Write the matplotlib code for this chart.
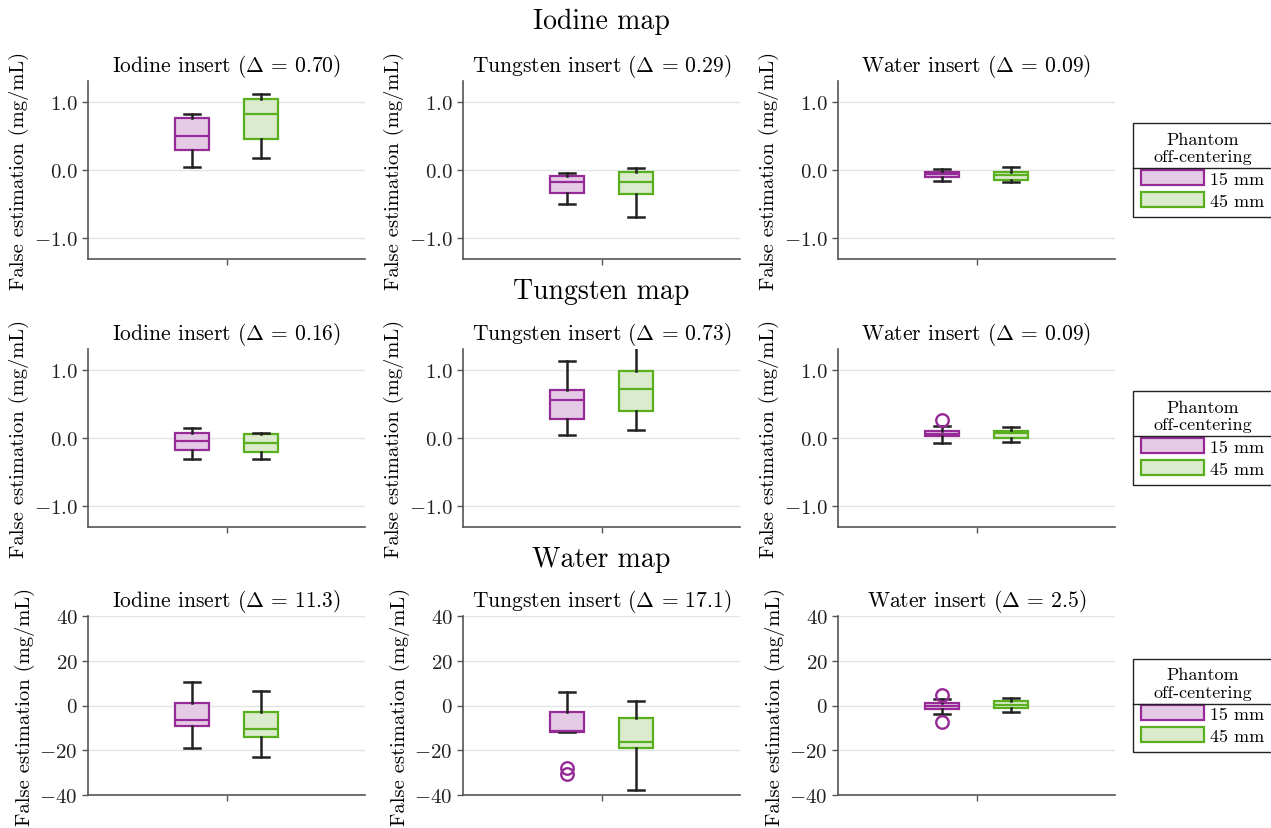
import numpy as np
import matplotlib
matplotlib.use("Agg")
import matplotlib.pyplot as plt
from matplotlib.patches import Patch
from matplotlib.lines import Line2D
from matplotlib.ticker import FuncFormatter

plt.rcParams['font.family'] = 'serif'
plt.rcParams['font.serif'] = ['cmr10', 'DejaVu Serif']
plt.rcParams['mathtext.fontset'] = 'cm'
plt.rcParams['axes.formatter.use_mathtext'] = True
plt.rcParams['axes.unicode_minus'] = True

# labels
maps = ["Iodine map", "Tungsten map", "Water map"]
inserts = ["Iodine insert", "Tungsten insert", "Water insert"]
deltas = [["0.70", "0.29", "0.09"],
          ["0.16", "0.73", "0.09"],
          ["11.3", "17.1", "2.5"]]
groups = ["15 mm", "45 mm"]

# box statistics per map (rows) and insert (columns), 15 mm off-centering
lo_15 = [[0.04, -0.50, -0.16], [-0.30, 0.05, -0.08], [-18.9, -11.9, -3.6]]
q1_15 = [[0.29, -0.33, -0.10], [-0.18, 0.28, 0.03], [-9.0, -11.9, -1.7]]
med_15 = [[0.49, -0.18, -0.06], [-0.05, 0.56, 0.065], [-6.7, -11.2, -0.3]]
q3_15 = [[0.755, -0.09, -0.03], [0.07, 0.70, 0.10], [1.0, -3.1, 0.9]]
hi_15 = [[0.82, -0.05, 0.01], [0.14, 1.12, 0.17], [10.3, 6.0, 3.1]]
fl_15 = [[[], [], []], [[], [], [0.26]], [[], [-28.0, -30.5], [4.9, -7.3]]]

# 45 mm off-centering
lo_45 = [[0.18, -0.69, -0.17], [-0.30, 0.11, -0.06], [-23.0, -37.8, -2.8]]
q1_45 = [[0.45, -0.35, -0.14], [-0.20, 0.39, 0.0], [-14.0, -19.1, -0.9]]
med_45 = [[0.82, -0.17, -0.08], [-0.07, 0.72, 0.07], [-10.3, -16.4, 0.1]]
q3_45 = [[1.04, -0.03, -0.03], [0.06, 0.98, 0.10], [-3.1, -5.4, 2.1]]
hi_45 = [[1.105, 0.025, 0.04], [0.08, 1.45, 0.16], [6.3, 2.0, 3.4]]
fl_45 = [[[], [], []], [[], [], []], [[], [], []]]

edge_cols = ['#962a96', '#5aaf1e']
fill_cols = ['#e5cae5', '#dcebcd']

W, H = 1271, 829
fig = plt.figure(figsize=(W / 100, H / 100), dpi=100)

col_left = [88, 463, 838]
row_top = [82, 350, 617]
row_h = [178, 178, 179]
ax_w = 277
suptitle_y = [22, 292, 560]

fmt1 = FuncFormatter(lambda v, p: "$%.1f$" % v)
fmt0 = FuncFormatter(lambda v, p: "$%d$" % int(round(v)))

for r in range(3):
    fig.text(601 / W, 1 - suptitle_y[r] / H, maps[r], ha='center', va='center', fontsize=20)
    for c in range(3):
        ax = fig.add_axes([col_left[c] / W, 1 - (row_top[r] + row_h[r]) / H,
                           ax_w / W, row_h[r] / H])
        stats = []
        for lo, q1, med, q3, hi, fl in [(lo_15, q1_15, med_15, q3_15, hi_15, fl_15),
                                        (lo_45, q1_45, med_45, q3_45, hi_45, fl_45)]:
            stats.append(dict(whislo=lo[r][c], q1=q1[r][c], med=med[r][c],
                              q3=q3[r][c], whishi=hi[r][c], fliers=fl[r][c]))
        res = ax.bxp(stats, positions=[-0.125, 0.125], widths=0.125, capwidths=0.058,
                     patch_artist=True, showfliers=True,
                     whiskerprops=dict(color='#222222', lw=1.8),
                     capprops=dict(color='#222222', lw=1.8))
        for i in range(2):
            res['boxes'][i].set_facecolor(fill_cols[i])
            res['boxes'][i].set_edgecolor(edge_cols[i])
            res['boxes'][i].set_linewidth(1.6)
            res['medians'][i].set_color(edge_cols[i])
            res['medians'][i].set_linewidth(1.6)
            res['fliers'][i].set(marker='o', markerfacecolor='none',
                                 markeredgecolor=edge_cols[i], markersize=9,
                                 markeredgewidth=1.7)
        ax.set_xlim(-0.5, 0.5)
        ax.set_xticks([0])
        ax.set_xticklabels([''])
        if r < 2:
            ax.set_ylim(-1.3, 1.3)
            ax.set_yticks([-1.0, 0.0, 1.0])
            ax.yaxis.set_major_formatter(fmt1)
        else:
            ax.set_ylim(-40, 40)
            ax.set_yticks([-40, -20, 0, 20, 40])
            ax.yaxis.set_major_formatter(fmt0)
        ax.grid(axis='y', color='#e4e4e4', lw=1)
        ax.set_axisbelow(True)
        for s in ['top', 'right']:
            ax.spines[s].set_visible(False)
        for s in ['left', 'bottom']:
            ax.spines[s].set_color('#555555')
            ax.spines[s].set_linewidth(1.2)
        ax.tick_params(axis='both', colors='#555555', labelcolor='#222222',
                       labelsize=15, length=4, width=1)
        ax.set_title(inserts[c] + r" ($\Delta$ = " + deltas[r][c] + ")",
                     fontsize=15.5, pad=7)
        ax.set_ylabel("False estimation (mg/mL)", fontsize=14.8, labelpad=3)

        if c == 2:
            handles = [Patch(facecolor=fill_cols[i], edgecolor=edge_cols[i], lw=1.6,
                             label=groups[i]) for i in range(2)]
            leg = ax.legend(handles=handles, title="Phantom\noff-centering",
                            loc='center left', bbox_to_anchor=(1.065, 0.5),
                            borderaxespad=0,
                            fontsize=13, title_fontsize=13, fancybox=False,
                            edgecolor='#222222', framealpha=1,
                            handlelength=3.5, handleheight=0.9,
                            handletextpad=0.3, borderpad=0.45, labelspacing=0.3)
            leg.get_frame().set_linewidth(1.0)
            leg.get_title().set_multialignment('center')
            ax._row_leg = leg

fig.canvas.draw()
renderer = fig.canvas.get_renderer()
for ax in fig.axes:
    leg = getattr(ax, '_row_leg', None)
    if leg is None:
        continue
    lb = leg.get_window_extent(renderer)
    tb = leg.get_title().get_window_extent(renderer)
    y = tb.y0 - 4
    fig.add_artist(Line2D([lb.x0 / W, lb.x1 / W], [y / H, y / H],
                          color='#222222', lw=1.0, transform=fig.transFigure))

fig.savefig("out.png", dpi=100)
